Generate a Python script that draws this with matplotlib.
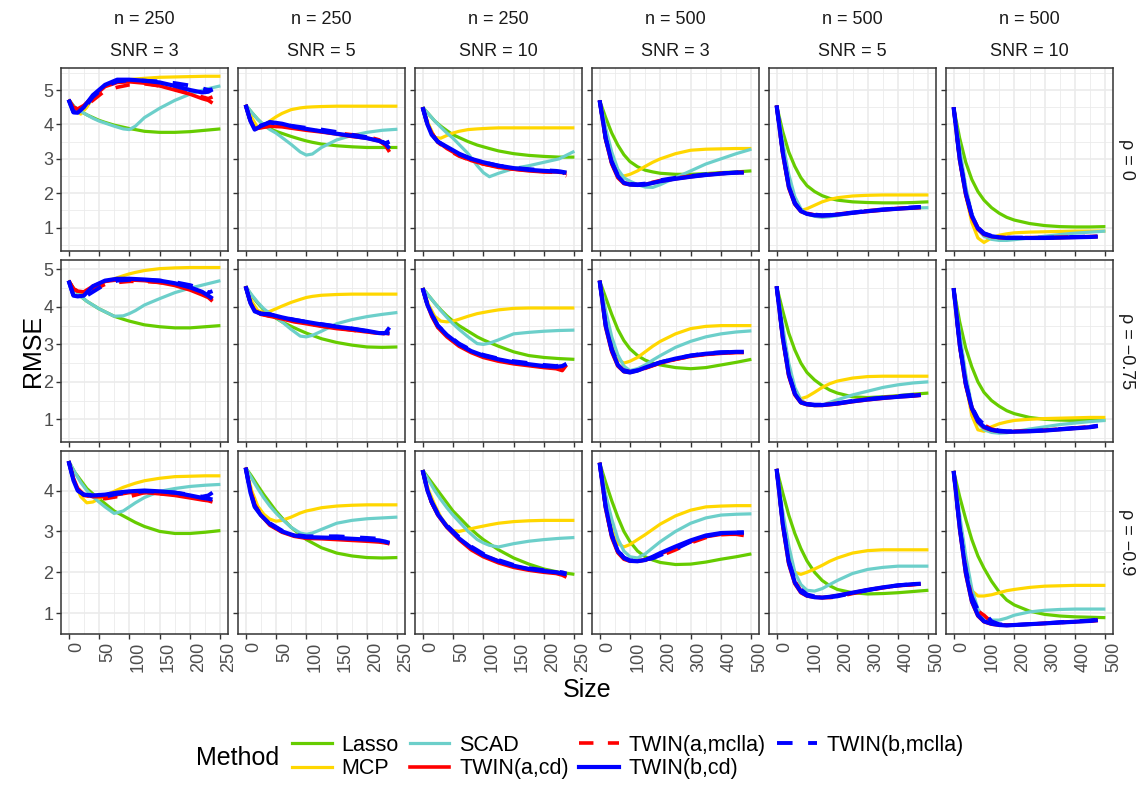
import matplotlib.pyplot as plt
from matplotlib.lines import Line2D
from matplotlib.ticker import MultipleLocator

plt.rcParams['font.family'] = ['Liberation Sans', 'DejaVu Sans']

# facet labels
N_LABELS = ['n = 250', 'n = 250', 'n = 250', 'n = 500', 'n = 500', 'n = 500']
SNR_LABELS = ['SNR = 3', 'SNR = 5', 'SNR = 10', 'SNR = 3', 'SNR = 5', 'SNR = 10']
RHO_LABELS = ['ρ = 0', 'ρ = −0.75', 'ρ = −0.9']

# model sizes where RMSE was evaluated
SIZE_250 = [0, 10, 20, 30, 40, 50, 60, 75, 90, 100, 110, 125, 150, 175, 200, 225, 250]
SIZE_500 = [0, 20, 40, 60, 80, 100, 125, 150, 175, 200, 250, 300, 350, 400, 450, 500]
TWIN_SIZE_250 = [0, 8, 15, 25, 40, 60, 80, 100, 125, 150, 175, 200, 220, 230, 237]
TWIN_SIZE_500 = [0, 20, 40, 60, 80, 100, 125, 150, 175, 200, 250, 300, 350, 400, 450, 475]

# RMSE per panel, row by row (rho), left to right (n, SNR)
LASSO = [
    [4.72, 4.5, 4.38, 4.28, 4.2, 4.12, 4.06, 3.98, 3.92, 3.88, 3.85, 3.8, 3.77, 3.77, 3.79, 3.83, 3.87],
    [4.57, 4.35, 4.15, 3.98, 3.88, 3.8, 3.74, 3.65, 3.57, 3.52, 3.48, 3.43, 3.38, 3.35, 3.33, 3.33, 3.33],
    [4.5, 4.3, 4.1, 3.95, 3.82, 3.7, 3.62, 3.5, 3.4, 3.35, 3.3, 3.23, 3.15, 3.1, 3.07, 3.05, 3.05],
    [4.7, 4.2, 3.75, 3.4, 3.12, 2.92, 2.77, 2.67, 2.62, 2.58, 2.55, 2.55, 2.57, 2.6, 2.62, 2.65],
    [4.55, 3.8, 3.2, 2.78, 2.45, 2.22, 2.05, 1.93, 1.85, 1.8, 1.75, 1.73, 1.72, 1.72, 1.73, 1.75],
    [4.5, 3.6, 2.9, 2.4, 2.05, 1.8, 1.58, 1.42, 1.3, 1.22, 1.12, 1.06, 1.03, 1.02, 1.02, 1.03],
    [4.7, 4.45, 4.28, 4.15, 4.05, 3.95, 3.87, 3.75, 3.67, 3.62, 3.58, 3.52, 3.47, 3.44, 3.44, 3.47, 3.5],
    [4.55, 4.3, 4.1, 3.92, 3.8, 3.7, 3.6, 3.48, 3.37, 3.3, 3.24, 3.15, 3.05, 2.98, 2.93, 2.92, 2.93],
    [4.5, 4.3, 4.1, 3.92, 3.76, 3.62, 3.5, 3.35, 3.2, 3.12, 3.05, 2.95, 2.8, 2.7, 2.65, 2.62, 2.6],
    [4.7, 4.25, 3.8, 3.4, 3.1, 2.88, 2.7, 2.58, 2.5, 2.45, 2.38, 2.35, 2.38, 2.45, 2.52, 2.6],
    [4.55, 3.9, 3.3, 2.85, 2.5, 2.25, 2.05, 1.9, 1.78, 1.7, 1.6, 1.58, 1.6, 1.63, 1.67, 1.7],
    [4.5, 3.6, 2.9, 2.4, 2.0, 1.72, 1.5, 1.35, 1.23, 1.15, 1.05, 1.0, 0.98, 0.97, 0.97, 0.98],
    [4.72, 4.45, 4.25, 4.05, 3.92, 3.8, 3.68, 3.5, 3.38, 3.3, 3.22, 3.12, 3.0, 2.95, 2.95, 2.98, 3.02],
    [4.56, 4.35, 4.12, 3.9, 3.7, 3.5, 3.33, 3.1, 2.92, 2.8, 2.72, 2.6, 2.47, 2.4, 2.36, 2.35, 2.36],
    [4.5, 4.3, 4.1, 3.9, 3.7, 3.5, 3.35, 3.12, 2.92, 2.8, 2.7, 2.55, 2.35, 2.2, 2.08, 2.0, 1.95],
    [4.68, 4.2, 3.75, 3.35, 3.0, 2.75, 2.52, 2.38, 2.3, 2.24, 2.19, 2.2, 2.25, 2.32, 2.38, 2.45],
    [4.53, 3.95, 3.4, 2.95, 2.58, 2.28, 2.0, 1.8, 1.67, 1.58, 1.5, 1.47, 1.48, 1.5, 1.53, 1.56],
    [4.48, 3.85, 3.3, 2.8, 2.4, 2.1, 1.78, 1.52, 1.32, 1.2, 1.05, 0.97, 0.93, 0.91, 0.9, 0.89],
]

MCP = [
    [4.72, 4.45, 4.3, 4.5, 4.78, 5.0, 5.12, 5.23, 5.28, 5.3, 5.32, 5.34, 5.37, 5.38, 5.39, 5.4, 5.4],
    [4.57, 4.2, 3.9, 3.95, 4.1, 4.22, 4.32, 4.43, 4.48, 4.5, 4.51, 4.52, 4.53, 4.53, 4.53, 4.53, 4.53],
    [4.5, 4.0, 3.62, 3.6, 3.68, 3.75, 3.8, 3.85, 3.87, 3.88, 3.89, 3.9, 3.9, 3.9, 3.9, 3.9, 3.9],
    [4.7, 3.8, 3.0, 2.55, 2.5, 2.55, 2.65, 2.78, 2.9, 3.0, 3.15, 3.25, 3.28, 3.29, 3.3, 3.3],
    [4.55, 3.3, 2.3, 1.7, 1.5, 1.55, 1.65, 1.75, 1.82, 1.87, 1.92, 1.94, 1.95, 1.95, 1.95, 1.95],
    [4.5, 3.1, 1.95, 1.15, 0.7, 0.57, 0.7, 0.78, 0.82, 0.85, 0.87, 0.88, 0.89, 0.9, 0.9, 0.9],
    [4.7, 4.45, 4.35, 4.4, 4.5, 4.6, 4.67, 4.75, 4.83, 4.88, 4.92, 4.97, 5.02, 5.04, 5.05, 5.05, 5.05],
    [4.55, 4.15, 3.9, 3.85, 3.88, 3.95, 4.02, 4.12, 4.2, 4.25, 4.28, 4.31, 4.33, 4.34, 4.34, 4.34, 4.34],
    [4.5, 4.05, 3.75, 3.62, 3.6, 3.62, 3.67, 3.75, 3.82, 3.85, 3.88, 3.92, 3.96, 3.97, 3.97, 3.97, 3.97],
    [4.7, 3.8, 3.05, 2.6, 2.5, 2.55, 2.65, 2.8, 2.95, 3.08, 3.28, 3.42, 3.48, 3.5, 3.5, 3.5],
    [4.55, 3.3, 2.3, 1.7, 1.55, 1.6, 1.72, 1.85, 1.95, 2.02, 2.1, 2.14, 2.15, 2.15, 2.15, 2.15],
    [4.5, 3.1, 1.95, 1.1, 0.72, 0.68, 0.8, 0.88, 0.93, 0.97, 1.0, 1.02, 1.03, 1.04, 1.05, 1.05],
    [4.72, 4.2, 3.85, 3.7, 3.72, 3.8, 3.88, 3.98, 4.08, 4.13, 4.18, 4.24, 4.3, 4.34, 4.35, 4.36, 4.36],
    [4.56, 4.0, 3.62, 3.42, 3.3, 3.25, 3.27, 3.35, 3.45, 3.5, 3.53, 3.58, 3.62, 3.64, 3.65, 3.65, 3.65],
    [4.5, 4.0, 3.65, 3.35, 3.15, 3.02, 3.0, 3.05, 3.1, 3.13, 3.16, 3.2, 3.24, 3.26, 3.27, 3.27, 3.27],
    [4.68, 3.8, 3.1, 2.7, 2.62, 2.68, 2.8, 2.92, 3.05, 3.18, 3.38, 3.52, 3.6, 3.62, 3.63, 3.63],
    [4.53, 3.3, 2.4, 2.0, 1.95, 2.0, 2.08, 2.17, 2.27, 2.35, 2.47, 2.53, 2.55, 2.55, 2.55, 2.55],
    [4.48, 3.2, 2.2, 1.55, 1.42, 1.42, 1.45, 1.5, 1.55, 1.58, 1.63, 1.66, 1.67, 1.68, 1.68, 1.68],
]

SCAD = [
    [4.72, 4.5, 4.38, 4.28, 4.18, 4.1, 4.04, 3.95, 3.87, 3.85, 3.95, 4.2, 4.47, 4.7, 4.88, 5.02, 5.12],
    [4.57, 4.35, 4.15, 3.98, 3.85, 3.75, 3.62, 3.42, 3.2, 3.11, 3.14, 3.33, 3.55, 3.68, 3.77, 3.83, 3.86],
    [4.5, 4.3, 4.1, 3.92, 3.75, 3.6, 3.42, 3.15, 2.8, 2.6, 2.48, 2.58, 2.72, 2.8, 2.9, 3.0, 3.22],
    [4.7, 3.9, 3.2, 2.7, 2.45, 2.35, 2.25, 2.18, 2.17, 2.25, 2.45, 2.65, 2.85, 3.0, 3.15, 3.28],
    [4.55, 3.5, 2.55, 1.9, 1.55, 1.4, 1.33, 1.3, 1.32, 1.35, 1.42, 1.48, 1.52, 1.55, 1.57, 1.58],
    [4.5, 3.3, 2.2, 1.4, 0.95, 0.75, 0.66, 0.63, 0.63, 0.65, 0.7, 0.75, 0.8, 0.84, 0.87, 0.9],
    [4.7, 4.45, 4.28, 4.15, 4.05, 3.95, 3.87, 3.75, 3.76, 3.82, 3.9, 4.05, 4.22, 4.38, 4.5, 4.6, 4.7],
    [4.55, 4.32, 4.12, 3.95, 3.82, 3.72, 3.6, 3.4, 3.22, 3.2, 3.24, 3.35, 3.55, 3.66, 3.74, 3.8, 3.85],
    [4.5, 4.3, 4.1, 3.9, 3.72, 3.55, 3.4, 3.2, 3.02, 3.0, 3.03, 3.12, 3.28, 3.32, 3.35, 3.37, 3.38],
    [4.7, 3.9, 3.2, 2.72, 2.42, 2.3, 2.35, 2.45, 2.58, 2.7, 2.92, 3.08, 3.2, 3.28, 3.33, 3.36],
    [4.55, 3.5, 2.5, 1.85, 1.52, 1.4, 1.36, 1.38, 1.45, 1.52, 1.65, 1.75, 1.85, 1.92, 1.97, 2.0],
    [4.5, 3.3, 2.2, 1.35, 0.9, 0.72, 0.65, 0.63, 0.64, 0.67, 0.74, 0.8, 0.86, 0.9, 0.94, 0.97],
    [4.72, 4.45, 4.2, 4.0, 3.85, 3.72, 3.6, 3.44, 3.5, 3.6, 3.7, 3.83, 3.98, 4.05, 4.1, 4.13, 4.15],
    [4.56, 4.3, 4.05, 3.82, 3.62, 3.45, 3.3, 3.1, 2.96, 2.93, 2.96, 3.05, 3.2, 3.27, 3.31, 3.33, 3.35],
    [4.5, 4.25, 4.0, 3.78, 3.58, 3.4, 3.24, 3.0, 2.8, 2.72, 2.66, 2.62, 2.7, 2.76, 2.8, 2.83, 2.85],
    [4.68, 3.9, 3.3, 2.82, 2.52, 2.38, 2.35, 2.45, 2.6, 2.75, 3.0, 3.2, 3.33, 3.4, 3.42, 3.43],
    [4.53, 3.5, 2.65, 2.0, 1.7, 1.56, 1.54, 1.6, 1.7, 1.8, 1.97, 2.07, 2.12, 2.15, 2.15, 2.15],
    [4.48, 3.4, 2.4, 1.6, 1.1, 0.9, 0.83, 0.83, 0.88, 0.95, 1.03, 1.07, 1.09, 1.1, 1.1, 1.1],
]

TWIN_A_CD = [
    [4.72, 4.48, 4.45, 4.55, 4.8, 5.1, 5.22, 5.24, 5.2, 5.12, 5.0, 4.88, 4.75, 4.7, 4.62],
    [4.57, 4.1, 3.87, 3.9, 3.95, 3.93, 3.88, 3.83, 3.78, 3.72, 3.65, 3.6, 3.52, 3.4, 3.2],
    [4.5, 4.0, 3.75, 3.5, 3.3, 3.1, 2.95, 2.85, 2.75, 2.7, 2.65, 2.62, 2.62, 2.6, 2.58],
    [4.7, 3.55, 2.85, 2.45, 2.28, 2.25, 2.24, 2.26, 2.3, 2.35, 2.42, 2.48, 2.53, 2.57, 2.6, 2.6],
    [4.55, 3.15, 2.15, 1.68, 1.47, 1.4, 1.36, 1.35, 1.36, 1.38, 1.43, 1.47, 1.51, 1.55, 1.57, 1.58],
    [4.5, 2.95, 1.95, 1.3, 0.95, 0.8, 0.74, 0.71, 0.7, 0.7, 0.7, 0.7, 0.71, 0.72, 0.73, 0.74],
    [4.7, 4.48, 4.42, 4.4, 4.55, 4.68, 4.72, 4.72, 4.7, 4.65, 4.57, 4.45, 4.32, 4.25, 4.15],
    [4.55, 4.1, 3.9, 3.82, 3.75, 3.68, 3.6, 3.55, 3.48, 3.42, 3.38, 3.33, 3.3, 3.3, 3.28],
    [4.5, 4.05, 3.75, 3.45, 3.2, 2.95, 2.78, 2.65, 2.55, 2.48, 2.43, 2.38, 2.35, 2.3, 2.45],
    [4.7, 3.45, 2.8, 2.42, 2.27, 2.25, 2.3, 2.37, 2.44, 2.5, 2.6, 2.68, 2.73, 2.76, 2.78, 2.78],
    [4.55, 3.15, 2.15, 1.65, 1.44, 1.39, 1.37, 1.37, 1.39, 1.41, 1.47, 1.52, 1.56, 1.6, 1.62, 1.64],
    [4.5, 2.95, 1.9, 1.27, 0.93, 0.78, 0.71, 0.68, 0.67, 0.67, 0.68, 0.7, 0.73, 0.76, 0.79, 0.82],
    [4.72, 4.3, 4.05, 3.9, 3.85, 3.85, 3.9, 3.95, 3.95, 3.92, 3.88, 3.82, 3.77, 3.75, 3.72],
    [4.56, 4.0, 3.65, 3.4, 3.15, 2.98, 2.88, 2.83, 2.82, 2.8, 2.78, 2.76, 2.74, 2.72, 2.7],
    [4.5, 4.0, 3.7, 3.4, 3.1, 2.8, 2.55, 2.38, 2.23, 2.12, 2.05, 2.0, 1.97, 1.93, 1.88],
    [4.68, 3.55, 2.85, 2.48, 2.32, 2.27, 2.27, 2.3, 2.37, 2.45, 2.6, 2.75, 2.87, 2.93, 2.93, 2.9],
    [4.53, 3.15, 2.2, 1.72, 1.5, 1.42, 1.39, 1.38, 1.4, 1.43, 1.5, 1.57, 1.63, 1.67, 1.7, 1.71],
    [4.48, 3.05, 1.95, 1.27, 0.93, 0.79, 0.73, 0.71, 0.7, 0.71, 0.73, 0.75, 0.77, 0.79, 0.81, 0.82],
]

TWIN_A_MCLLA = [
    [4.72, 4.5, 4.45, 4.5, 4.7, 4.98, 5.08, 5.15, 5.18, 5.12, 5.02, 4.9, 4.8, 4.75, 4.8],
    [4.57, 4.1, 3.9, 3.92, 3.95, 3.94, 3.9, 3.86, 3.8, 3.75, 3.7, 3.65, 3.55, 3.4, 3.25],
    [4.5, 4.02, 3.75, 3.48, 3.28, 3.08, 2.95, 2.85, 2.77, 2.7, 2.66, 2.63, 2.6, 2.55, 2.5],
    [4.7, 3.58, 2.88, 2.48, 2.3, 2.26, 2.25, 2.27, 2.32, 2.37, 2.44, 2.5, 2.54, 2.58, 2.6, 2.62],
    [4.55, 3.2, 2.2, 1.72, 1.5, 1.42, 1.37, 1.36, 1.37, 1.39, 1.44, 1.49, 1.53, 1.56, 1.58, 1.6],
    [4.5, 3.0, 2.0, 1.35, 1.0, 0.83, 0.76, 0.72, 0.71, 0.71, 0.71, 0.71, 0.72, 0.73, 0.74, 0.75],
    [4.7, 4.48, 4.42, 4.38, 4.45, 4.6, 4.65, 4.68, 4.68, 4.65, 4.6, 4.5, 4.38, 4.28, 4.2],
    [4.55, 4.1, 3.9, 3.8, 3.75, 3.7, 3.62, 3.55, 3.5, 3.44, 3.38, 3.33, 3.3, 3.28, 3.3],
    [4.5, 4.05, 3.77, 3.47, 3.22, 2.98, 2.8, 2.68, 2.57, 2.5, 2.45, 2.4, 2.37, 2.4, 2.45],
    [4.7, 3.5, 2.85, 2.46, 2.3, 2.27, 2.3, 2.36, 2.43, 2.5, 2.6, 2.68, 2.74, 2.77, 2.79, 2.8],
    [4.55, 3.2, 2.2, 1.7, 1.47, 1.41, 1.39, 1.39, 1.41, 1.43, 1.49, 1.54, 1.58, 1.61, 1.64, 1.66],
    [4.5, 3.0, 1.95, 1.32, 1.0, 0.85, 0.74, 0.69, 0.68, 0.68, 0.69, 0.71, 0.74, 0.77, 0.8, 0.83],
    [4.72, 4.3, 4.05, 3.88, 3.85, 3.8, 3.85, 3.85, 3.95, 3.92, 3.92, 3.85, 3.82, 3.9, 3.97],
    [4.56, 4.0, 3.65, 3.42, 3.17, 2.99, 2.9, 2.85, 2.84, 2.82, 2.8, 2.78, 2.76, 2.73, 2.7],
    [4.5, 4.0, 3.7, 3.42, 3.12, 2.83, 2.6, 2.42, 2.27, 2.15, 2.08, 2.03, 2.0, 1.95, 1.9],
    [4.68, 3.58, 2.88, 2.5, 2.34, 2.28, 2.28, 2.3, 2.35, 2.4, 2.55, 2.72, 2.85, 2.92, 2.94, 2.92],
    [4.53, 3.2, 2.25, 1.78, 1.55, 1.45, 1.4, 1.38, 1.38, 1.4, 1.48, 1.55, 1.62, 1.67, 1.7, 1.72],
    [4.48, 3.1, 2.05, 1.38, 1.05, 0.95, 0.78, 0.72, 0.71, 0.71, 0.73, 0.75, 0.77, 0.79, 0.81, 0.83],
]

TWIN_B_CD = [
    [4.72, 4.35, 4.34, 4.5, 4.85, 5.15, 5.3, 5.3, 5.27, 5.22, 5.12, 5.0, 4.93, 4.95, 5.02],
    [4.57, 4.1, 3.85, 3.95, 4.07, 4.02, 3.93, 3.87, 3.8, 3.73, 3.67, 3.6, 3.52, 3.45, 3.5],
    [4.5, 4.0, 3.7, 3.5, 3.35, 3.15, 3.0, 2.9, 2.8, 2.73, 2.68, 2.65, 2.63, 2.62, 2.6],
    [4.7, 3.6, 2.9, 2.5, 2.3, 2.25, 2.24, 2.25, 2.3, 2.35, 2.42, 2.48, 2.53, 2.57, 2.6, 2.6],
    [4.55, 3.2, 2.2, 1.7, 1.48, 1.4, 1.36, 1.35, 1.36, 1.38, 1.43, 1.48, 1.52, 1.55, 1.58, 1.6],
    [4.5, 3.0, 2.0, 1.35, 0.98, 0.82, 0.75, 0.72, 0.7, 0.7, 0.7, 0.7, 0.71, 0.72, 0.73, 0.74],
    [4.7, 4.3, 4.28, 4.3, 4.55, 4.7, 4.75, 4.75, 4.73, 4.7, 4.63, 4.52, 4.4, 4.3, 4.22],
    [4.55, 4.1, 3.88, 3.82, 3.8, 3.72, 3.65, 3.6, 3.53, 3.47, 3.42, 3.36, 3.3, 3.3, 3.3],
    [4.5, 4.05, 3.8, 3.5, 3.25, 3.0, 2.82, 2.7, 2.6, 2.52, 2.47, 2.42, 2.4, 2.42, 2.48],
    [4.7, 3.5, 2.85, 2.45, 2.28, 2.25, 2.3, 2.38, 2.45, 2.52, 2.62, 2.7, 2.75, 2.78, 2.8, 2.8],
    [4.55, 3.2, 2.2, 1.68, 1.45, 1.4, 1.38, 1.38, 1.4, 1.42, 1.48, 1.53, 1.57, 1.6, 1.63, 1.65],
    [4.5, 3.0, 1.95, 1.3, 0.95, 0.8, 0.72, 0.68, 0.67, 0.67, 0.68, 0.7, 0.73, 0.76, 0.79, 0.82],
    [4.72, 4.25, 4.0, 3.9, 3.88, 3.9, 3.95, 3.98, 4.0, 3.98, 3.95, 3.88, 3.82, 3.8, 3.78],
    [4.56, 3.95, 3.6, 3.4, 3.18, 3.0, 2.9, 2.86, 2.85, 2.84, 2.82, 2.8, 2.78, 2.75, 2.72],
    [4.5, 4.0, 3.72, 3.42, 3.12, 2.83, 2.6, 2.42, 2.27, 2.16, 2.08, 2.03, 2.0, 1.97, 1.95],
    [4.68, 3.6, 2.9, 2.52, 2.35, 2.28, 2.27, 2.3, 2.38, 2.47, 2.63, 2.78, 2.9, 2.96, 2.97, 2.97],
    [4.53, 3.2, 2.25, 1.75, 1.52, 1.43, 1.39, 1.38, 1.4, 1.43, 1.5, 1.57, 1.63, 1.68, 1.71, 1.72],
    [4.48, 3.1, 2.0, 1.3, 0.95, 0.8, 0.74, 0.71, 0.7, 0.71, 0.73, 0.75, 0.77, 0.79, 0.81, 0.83],
]

TWIN_B_MCLLA = [
    [4.72, 4.36, 4.35, 4.45, 4.8, 5.1, 5.25, 5.28, 5.27, 5.25, 5.2, 5.13, 5.05, 5.0, 5.02],
    [4.57, 4.1, 3.88, 3.97, 4.05, 4.0, 3.95, 3.9, 3.85, 3.78, 3.7, 3.63, 3.55, 3.45, 3.3],
    [4.5, 4.0, 3.72, 3.5, 3.33, 3.13, 3.0, 2.9, 2.8, 2.74, 2.7, 2.67, 2.65, 2.62, 2.55],
    [4.7, 3.6, 2.92, 2.52, 2.32, 2.27, 2.26, 2.28, 2.33, 2.38, 2.45, 2.5, 2.55, 2.58, 2.6, 2.62],
    [4.55, 3.22, 2.22, 1.72, 1.5, 1.42, 1.38, 1.36, 1.37, 1.39, 1.44, 1.49, 1.53, 1.56, 1.59, 1.6],
    [4.5, 3.02, 2.02, 1.36, 1.0, 0.84, 0.76, 0.73, 0.71, 0.71, 0.71, 0.71, 0.72, 0.73, 0.74, 0.75],
    [4.7, 4.3, 4.28, 4.25, 4.4, 4.6, 4.7, 4.72, 4.72, 4.7, 4.66, 4.58, 4.48, 4.38, 4.42],
    [4.55, 4.1, 3.88, 3.82, 3.8, 3.72, 3.66, 3.6, 3.54, 3.48, 3.42, 3.35, 3.3, 3.3, 3.45],
    [4.5, 4.05, 3.8, 3.5, 3.27, 3.02, 2.85, 2.72, 2.62, 2.55, 2.5, 2.45, 2.42, 2.45, 2.5],
    [4.7, 3.52, 2.88, 2.48, 2.31, 2.27, 2.31, 2.38, 2.45, 2.52, 2.62, 2.7, 2.76, 2.79, 2.8, 2.8],
    [4.55, 3.22, 2.22, 1.7, 1.47, 1.41, 1.39, 1.39, 1.41, 1.43, 1.49, 1.54, 1.58, 1.62, 1.65, 1.67],
    [4.5, 3.0, 1.97, 1.33, 1.02, 0.86, 0.75, 0.7, 0.68, 0.68, 0.69, 0.71, 0.74, 0.77, 0.8, 0.83],
    [4.72, 4.25, 4.0, 3.9, 3.87, 3.85, 3.92, 3.95, 3.98, 3.97, 3.95, 3.9, 3.85, 3.88, 3.95],
    [4.56, 3.95, 3.62, 3.42, 3.2, 3.02, 2.92, 2.88, 2.88, 2.88, 2.86, 2.84, 2.82, 2.75, 2.72],
    [4.5, 4.0, 3.72, 3.44, 3.15, 2.86, 2.63, 2.45, 2.3, 2.18, 2.1, 2.05, 2.02, 2.0, 1.97],
    [4.68, 3.6, 2.92, 2.54, 2.36, 2.29, 2.28, 2.31, 2.34, 2.42, 2.57, 2.75, 2.88, 2.95, 2.97, 2.98],
    [4.53, 3.22, 2.28, 1.8, 1.58, 1.46, 1.41, 1.39, 1.39, 1.41, 1.49, 1.56, 1.63, 1.68, 1.71, 1.73],
    [4.48, 3.12, 2.08, 1.4, 1.08, 1.02, 0.8, 0.73, 0.71, 0.71, 0.73, 0.75, 0.78, 0.8, 0.82, 0.84],
]

# y range of each rho row
ROW_YLIM = [(0.33, 5.64), (0.385, 5.26), (0.49, 4.96)]

# name, values, is TWIN, colour, linestyle, linewidth
METHODS = [
    ('Lasso', LASSO, False, '#66CC00', '-', 2.3),
    ('MCP', MCP, False, '#FFD700', '-', 2.3),
    ('SCAD', SCAD, False, '#6CCFCA', '-', 2.3),
    ('TWIN(a,cd)', TWIN_A_CD, True, '#FF0000', '-', 2.6),
    ('TWIN(a,mclla)', TWIN_A_MCLLA, True, '#FF0000', (0, (4, 4)), 2.6),
    ('TWIN(b,cd)', TWIN_B_CD, True, '#0000FF', '-', 3.0),
    ('TWIN(b,mclla)', TWIN_B_MCLLA, True, '#0000FF', (0, (4, 4)), 2.8),
]

W, H = 1146, 787
fig = plt.figure(figsize=(W / 100, H / 100), dpi=100)
gs = fig.add_gridspec(3, 6, left=61 / W, right=1113 / W, top=1 - 68 / H,
                      bottom=1 - 634 / H, wspace=0.06, hspace=0.049)

for r in range(3):
    for c in range(6):
        ax = fig.add_subplot(gs[r, c])
        k = r * 6 + c
        big = c >= 3
        for name, vals, twin, col, ls, lw in METHODS:
            if twin:
                xs = TWIN_SIZE_500 if big else TWIN_SIZE_250
            else:
                xs = SIZE_500 if big else SIZE_250
            ax.plot(xs, vals[k], color=col, linestyle=ls, linewidth=lw,
                    solid_joinstyle='round', solid_capstyle='butt')

        xmax = 500 if big else 250
        ax.set_xlim(-0.05 * xmax, 1.05 * xmax)
        ax.set_ylim(*ROW_YLIM[r])
        ax.xaxis.set_major_locator(MultipleLocator(xmax / 5))
        ax.xaxis.set_minor_locator(MultipleLocator(xmax / 10))
        ax.yaxis.set_major_locator(MultipleLocator(1))
        ax.yaxis.set_minor_locator(MultipleLocator(0.5))
        ax.grid(which='major', color='#EBEBEB', linewidth=1.2, zorder=0)
        ax.grid(which='minor', color='#EBEBEB', linewidth=0.6, zorder=0)
        ax.set_axisbelow(True)
        for sp in ax.spines.values():
            sp.set_color('#333333')
            sp.set_linewidth(1.1)
        ax.tick_params(which='major', length=3.5, width=1, color='#333333',
                       labelcolor='#4D4D4D', labelsize=13, pad=2)
        ax.tick_params(which='minor', length=0)
        ax.tick_params(axis='x', labelbottom=(r == 2))
        ax.tick_params(axis='y', labelleft=(c == 0))
        if r == 2:
            for lab in ax.get_xticklabels():
                lab.set_rotation(90)
                lab.set_ha('left')
                lab.set_va('top')

        if r == 0:
            pos = ax.get_position()
            xc = (pos.x0 + pos.x1) / 2
            fig.text(xc, 1 - 20 / H, N_LABELS[c], ha='center', va='center',
                     fontsize=13, color='#1A1A1A')
            fig.text(xc, 1 - 52 / H, SNR_LABELS[c], ha='center', va='center',
                     fontsize=13, color='#1A1A1A')
        if c == 5:
            pos = ax.get_position()
            fig.text(1126 / W, (pos.y0 + pos.y1) / 2, RHO_LABELS[r],
                     rotation=-90, ha='center', va='center', fontsize=13,
                     color='#1A1A1A')

fig.text(33 / W, 1 - 351 / H, 'RMSE', rotation=90, ha='center', va='center',
         fontsize=18)
fig.text(587 / W, 1 - 690 / H, 'Size', ha='center', va='center', fontsize=18)

handles = [Line2D([], [], color=col, linestyle=ls, linewidth=lw)
           for name, vals, twin, col, ls, lw in METHODS]
labels = [m[0] for m in METHODS]
fig.legend(handles, labels, ncol=4, loc='center left',
           bbox_to_anchor=(292 / W, 1 - 757 / H), frameon=False, fontsize=15.5,
           handlelength=1.85, handletextpad=0.45, columnspacing=0.5,
           labelspacing=0.1, borderpad=0, borderaxespad=0)
fig.text(196 / W, 1 - 758 / H, 'Method', ha='left', va='center', fontsize=18)

fig.savefig('out.png', dpi=100)
